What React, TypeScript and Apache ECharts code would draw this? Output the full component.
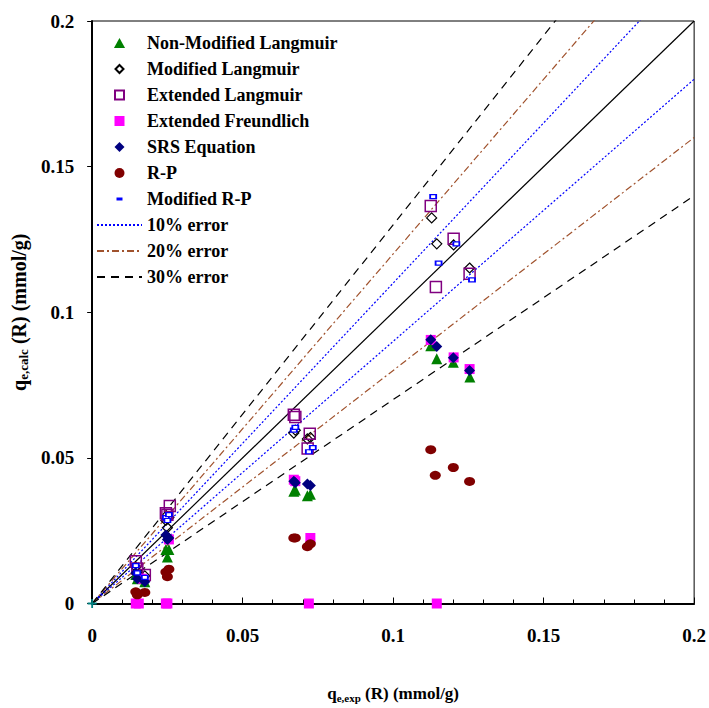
import React, { useEffect, useRef } from "react";
import * as echarts from "echarts";

const FONT = "'Liberation Serif', 'Times New Roman', serif";

const xTickLabels = ["0", "0.05", "0.1", "0.15", "0.2"];
const yTickLabels = ["0", "0.05", "0.1", "0.15", "0.2"];

const nonModifiedLangmuir = [
  [0.0145, 0.010], [0.015, 0.0085], [0.0175, 0.0075],
  [0.0245, 0.0185], [0.025, 0.016], [0.0255, 0.0185],
  [0.067, 0.0385], [0.0675, 0.039], [0.0715, 0.037], [0.0725, 0.0375],
  [0.1125, 0.0885], [0.1145, 0.084], [0.120, 0.0828], [0.1255, 0.0778],
];
const modifiedLangmuir = [
  [0.0145, 0.0125], [0.015, 0.011], [0.0175, 0.0095],
  [0.0245, 0.0285], [0.025, 0.026], [0.0255, 0.0295],
  [0.067, 0.0585], [0.0675, 0.0595], [0.0715, 0.0565], [0.0725, 0.057],
  [0.1128, 0.1324], [0.1145, 0.1235], [0.1201, 0.1231], [0.1254, 0.1152],
];
const extendedLangmuir = [
  [0.0145, 0.0145], [0.015, 0.012], [0.0175, 0.0098],
  [0.0245, 0.031], [0.025, 0.0305], [0.0258, 0.0335],
  [0.067, 0.0648], [0.0675, 0.064], [0.0716, 0.0532], [0.0723, 0.0583],
  [0.1125, 0.1365], [0.1142, 0.1087], [0.1201, 0.1252], [0.1254, 0.1132],
];
const extendedFreundlich = [
  [0.0145, 0], [0.0155, 0], [0.0165, 0.0085],
  [0.0245, 0], [0.025, 0], [0.0255, 0.022],
  [0.067, 0.0425], [0.0675, 0.042], [0.072, 0], [0.0725, 0.0225],
  [0.1125, 0.0905], [0.1145, 0], [0.1201, 0.0845], [0.1254, 0.0805],
];
const srsEquation = [
  [0.0145, 0.0105], [0.015, 0.0085], [0.0175, 0.0075],
  [0.0245, 0.0235], [0.025, 0.022], [0.0255, 0.0225],
  [0.067, 0.042], [0.0675, 0.0415], [0.0715, 0.041], [0.0725, 0.0405],
  [0.1125, 0.0906], [0.1145, 0.0882], [0.120, 0.0844], [0.1254, 0.080],
];
const rp = [
  [0.0145, 0.004], [0.015, 0.003], [0.0175, 0.0038],
  [0.0245, 0.0108], [0.025, 0.0092], [0.0255, 0.0118],
  [0.067, 0.0225], [0.0675, 0.0225], [0.0715, 0.0195], [0.0725, 0.0205],
  [0.1125, 0.0528], [0.114, 0.044], [0.120, 0.0467], [0.1254, 0.0419],
];
const modifiedRP = [
  [0.0145, 0.013], [0.015, 0.0105], [0.0175, 0.009],
  [0.0245, 0.0295], [0.025, 0.0285], [0.0255, 0.0305],
  [0.067, 0.0595], [0.0675, 0.0605], [0.072, 0.0521], [0.0733, 0.0535],
  [0.1133, 0.1397], [0.1151, 0.1169], [0.121, 0.1235], [0.1262, 0.1111],
];
const originPoint = [[0, 0]];

// reference lines: y = factor * x
const parityLine = [[0, 0], [0.2, 0.2]];
const err10Upper = [[0, 0], [0.2, 0.22]];
const err10Lower = [[0, 0], [0.2, 0.18]];
const err20Upper = [[0, 0], [0.2, 0.24]];
const err20Lower = [[0, 0], [0.2, 0.16]];
const err30Upper = [[0, 0], [0.2, 0.26]];
const err30Lower = [[0, 0], [0.2, 0.14]];

const legendNames = [
  "Non-Modified Langmuir",
  "Modified Langmuir",
  "Extended Langmuir",
  "Extended Freundlich",
  "SRS Equation",
  "R-P",
  "Modified R-P",
  "10% error",
  "20% error",
  "30% error",
];

const legendIcons: Record<string, string> = {
  "Non-Modified Langmuir": "path://M5,0L10,9H0Z",
  "Modified Langmuir": "path://M0,0M10,10M5,1L9,5L5,9L1,5Z",
  "Extended Langmuir": "path://M0,0M10,10M0.5,0.5H9.5V9.5H0.5Z",
  "Extended Freundlich": "path://M0,0H10V10H0Z",
  "SRS Equation": "path://M5,0L10,5L5,10L0,5Z",
  "R-P": "path://M0,5A5,5,0,1,1,10,5A5,5,0,1,1,0,5Z",
  "Modified R-P": "path://M0,0M10,10M2,3.5H8V6.5H2Z",
};

export default function App() {
  const ref = useRef<HTMLDivElement>(null);
  useEffect(() => {
    const chart = echarts.init(ref.current!, null, { renderer: "svg" });
    const scatter = (name: string | undefined, data: number[][], symbol: string, size: any, itemStyle: any) => ({
      name, type: "scatter", data, symbol, symbolSize: size, itemStyle: { opacity: 1, ...itemStyle }, z: 3,
    });
    const line = (name: string | undefined, data: number[][], color: string, type: any, width = 1) => ({
      name, type: "line", data, symbol: "none", showSymbol: false, clip: true,
      itemStyle: { color, opacity: 0 },
      lineStyle: { color, type, width }, z: 2, silent: true,
    });
    const legendData = legendNames.map((n) => {
      if (n === "Modified R-P") {
        return { name: n, icon: legendIcons[n], itemStyle: { color: "#0000ff", borderWidth: 0 } };
      }
      return legendIcons[n] ? { name: n, icon: legendIcons[n] } : { name: n };
    });
    chart.setOption({
      animation: false,
      backgroundColor: "#fff",
      textStyle: { fontFamily: FONT },
      grid: { left: 89, right: 14, top: 21, bottom: 104, show: true, borderColor: "#000", borderWidth: 1 },
      legend: {
        orient: "vertical",
        left: 91,
        top: 29,
        itemWidth: 45,
        itemHeight: 10,
        itemGap: 8,
        symbolKeepAspect: true,
        textStyle: { fontFamily: FONT, fontWeight: "bold", fontSize: 18, color: "#000", lineHeight: 18 },
        data: legendData,
      },
      xAxis: {
        type: "value",
        min: 0,
        max: 0.2,
        interval: 0.05,
        name: "{a|q}{s|e,exp}{a| (R) (mmol/g)}",
        nameLocation: "middle",
        nameGap: 80,
        nameTextStyle: {
          rich: {
            a: { fontFamily: FONT, fontWeight: "bold", fontSize: 17, color: "#000", lineHeight: 20 },
            s: { fontFamily: FONT, fontWeight: "bold", fontSize: 11, color: "#000", lineHeight: 20, padding: [8, 0, 0, 0] },
          },
        },
        axisLine: { lineStyle: { color: "#000", width: 2 } },
        axisTick: { inside: true, length: 6, lineStyle: { color: "#000", width: 1 } },
        minorTick: { show: true, splitNumber: 5, length: 4, lineStyle: { color: "#000", width: 1 } },
        splitLine: { show: false },
        axisLabel: {
          margin: 22,
          fontFamily: FONT, fontWeight: "bold", fontSize: 19, color: "#000",
          formatter: (v: number) => xTickLabels[Math.round(v / 0.05)] ?? "",
        },
      },
      yAxis: {
        type: "value",
        min: 0,
        max: 0.2,
        interval: 0.05,
        name: "{a|q}{s|e,calc}{a| (R) (mmol/g)}",
        nameLocation: "middle",
        nameGap: 50,
        nameRotate: 90,
        nameTextStyle: {
          rich: {
            a: { fontFamily: FONT, fontWeight: "bold", fontSize: 20, color: "#000", lineHeight: 22 },
            s: { fontFamily: FONT, fontWeight: "bold", fontSize: 13, color: "#000", lineHeight: 22, padding: [9, 0, 0, 0] },
          },
        },
        axisLine: { lineStyle: { color: "#000", width: 2 } },
        axisTick: { inside: false, length: 5, lineStyle: { color: "#000", width: 1 } },
        splitLine: { show: false },
        axisLabel: {
          margin: 18,
          fontFamily: FONT, fontWeight: "bold", fontSize: 19, color: "#000",
          formatter: (v: number) => yTickLabels[Math.round(v / 0.05)] ?? "",
        },
      },
      series: [
        line(undefined, parityLine, "#000", "solid", 1.2),
        line("10% error", err10Upper, "#0000ff", [2, 2], 1.2),
        line("10% error", err10Lower, "#0000ff", [2, 2], 1.2),
        line("20% error", err20Upper, "#a0522d", [7, 3, 2, 3], 1.2),
        line("20% error", err20Lower, "#a0522d", [7, 3, 2, 3], 1.2),
        line("30% error", err30Upper, "#000", [8, 6], 1.2),
        line("30% error", err30Lower, "#000", [8, 6], 1.2),
        scatter("Non-Modified Langmuir", nonModifiedLangmuir, "triangle", 11, { color: "#008000" }),
        scatter("Modified Langmuir", modifiedLangmuir, "diamond", 10, { color: "rgba(255,255,255,0)", borderColor: "#000", borderWidth: 1.2 }),
        scatter("Extended Langmuir", extendedLangmuir, "rect", 11, { color: "rgba(255,255,255,0)", borderColor: "#800080", borderWidth: 1.5 }),
        scatter("Extended Freundlich", extendedFreundlich, "rect", 10, { color: "#ff00ff" }),
        scatter("SRS Equation", srsEquation, "diamond", 11, { color: "#000080" }),
        scatter("R-P", rp, "circle", [11, 9], { color: "#800000" }),
        scatter("Modified R-P", modifiedRP, "rect", [6, 4], { color: "#ffffff", borderColor: "#0000ff", borderWidth: 1.5 }),
        scatter(undefined, originPoint, "path://M4,0H6V4H10V6H6V10H4V6H0V4H4Z", 9, { color: "#008080" }),
      ],
    });
    return () => chart.dispose();
  }, []);
  return <div ref={ref} style={{ width: 709, height: 708, position: "absolute", left: 0, top: 0 }} />;
}
